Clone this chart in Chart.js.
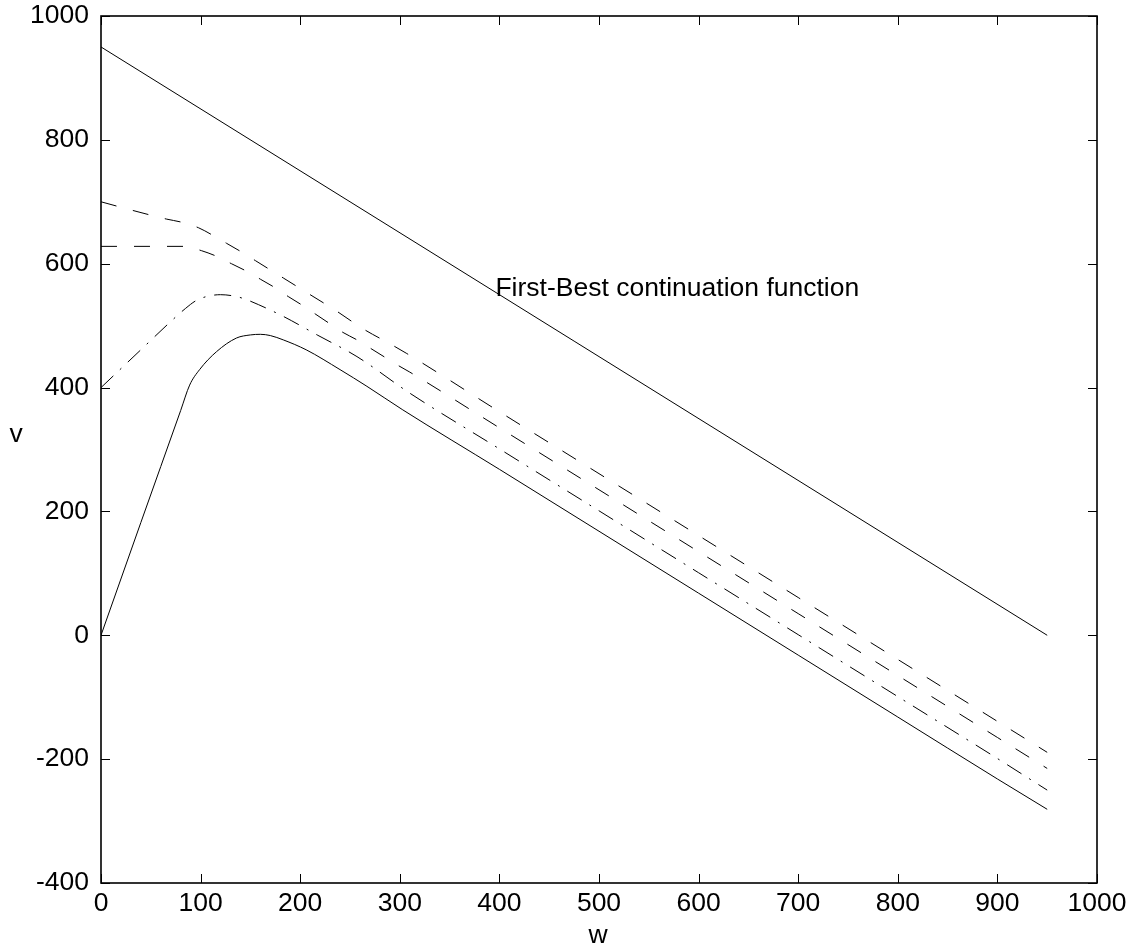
<!DOCTYPE html>
<html>
<head>
<meta charset="utf-8">
<script src="https://cdn.jsdelivr.net/npm/chart.js@4.4.1/dist/chart.umd.min.js"></script>
<style>
  html, body { margin: 0; padding: 0; background: #ffffff; }
  #wrap { width: 1134px; height: 949px; position: relative; }
</style>
</head>
<body>
<div id="wrap"><canvas id="c" width="1134" height="949"></canvas></div>
<script>
// ---- data ----
const xTicks = [0, 100, 200, 300, 400, 500, 600, 700, 800, 900, 1000];
const yTicks = [-400, -200, 0, 200, 400, 600, 800, 1000];

const wFirstBest = [0, 950];
const vFirstBest = [950, 0];

const wSolid = [0, 40, 80, 89, 99, 116, 136, 150, 160, 170, 183, 206, 240, 267, 303, 400, 500, 600, 700, 800, 900, 950];
const vSolid = [0, 182, 363, 404, 429, 458, 480, 485, 486, 484, 477, 461, 429, 402, 364, 268, 168, 68, -32, -132, -232, -281];

const wDashDot = [0, 40, 75, 85, 95, 106, 120, 136, 146, 158, 183, 217, 257, 310, 400, 500, 600, 700, 800, 900, 950];
const vDashDot = [400, 461, 514, 528, 540, 547, 550, 547, 542, 534, 515, 485, 450, 391, 301, 201, 101, 1, -99, -199, -250];

const wUpperDash = [0, 32, 66, 81, 98, 111, 126, 140, 155, 168, 183, 210, 237, 263, 292, 307, 400, 500, 600, 700, 800, 900, 950];
const vUpperDash = [700, 686, 672, 667, 658, 647, 633, 620, 605, 592, 577, 550, 523, 495, 469, 455, 361, 261, 161, 61, -39, -139, -189];

const wLowerDash = [0, 84, 101, 116, 131, 146, 160, 175, 188, 201, 215, 228, 243, 257, 270, 285, 297, 310, 400, 500, 600, 700, 800, 900, 950];
const vLowerDash = [628, 628, 621, 612, 600, 588, 575, 561, 547, 534, 519, 505, 489, 477, 464, 449, 437, 425, 335, 235, 135, 35, -65, -165, -215];

const annotationText = 'First-Best continuation function';
const annotationAt = { w: 396, v: 560 };
const xTitle = 'w';
const yTitle = 'v';

// ---- build ----
const FONT = "'Liberation Sans', Arial, sans-serif";
const FS = 26.5;
function pts(ws, vs) { return ws.map((w, i) => ({ x: w, y: vs[i] })); }
function ds(ws, vs, dash, smooth) {
  return {
    data: pts(ws, vs), borderColor: '#000', borderWidth: 1, borderDash: dash,
    pointRadius: 0, fill: false, showLine: true,
    cubicInterpolationMode: smooth ? 'monotone' : 'default', tension: 0
  };
}

const framePlugin = {
  id: 'frame',
  afterDatasetsDraw(chart) {
    const { ctx, chartArea: a, scales: { x, y } } = chart;
    ctx.save();
    ctx.strokeStyle = '#000';
    ctx.lineWidth = 1.6;
    ctx.strokeRect(a.left, a.top, a.right - a.left, a.bottom - a.top);
    ctx.lineWidth = 1;
    const L = 9;
    ctx.beginPath();
    xTicks.forEach(t => {
      const px = Math.round(x.getPixelForValue(t)) + 0.5;
      ctx.moveTo(px, a.bottom); ctx.lineTo(px, a.bottom - L);
      ctx.moveTo(px, a.top); ctx.lineTo(px, a.top + L);
    });
    yTicks.forEach(t => {
      const py = Math.round(y.getPixelForValue(t)) + 0.5;
      ctx.moveTo(a.left, py); ctx.lineTo(a.left + L, py);
      ctx.moveTo(a.right, py); ctx.lineTo(a.right - L, py);
    });
    ctx.stroke();
    // annotation
    ctx.fillStyle = '#000';
    ctx.font = FS + 'px ' + FONT;
    ctx.textAlign = 'left';
    ctx.textBaseline = 'middle';
    ctx.fillText(annotationText, x.getPixelForValue(annotationAt.w), y.getPixelForValue(annotationAt.v));
    // axis titles
    ctx.textAlign = 'center';
    ctx.fillText(xTitle, (a.left + a.right) / 2 - 1, 936);
    ctx.fillText(yTitle, 16, 435);
    ctx.restore();
  }
};

new Chart(document.getElementById('c'), {
  type: 'scatter',
  data: {
    datasets: [
      ds(wFirstBest, vFirstBest, [], false),
      ds(wUpperDash, vUpperDash, [16, 17], true),
      ds(wLowerDash, vLowerDash, [16, 17], true),
      ds(wDashDot, vDashDot, [17, 9, 2, 9], true),
      ds(wSolid, vSolid, [], true)
    ]
  },
  options: {
    responsive: false,
    animation: false,
    devicePixelRatio: 1,
    layout: { padding: { top: 16, right: 37, left: 0, bottom: 0 } },
    plugins: { legend: { display: false }, tooltip: { enabled: false } },
    scales: {
      x: {
        type: 'linear', min: 0, max: 1000,
        afterBuildTicks: s => { s.ticks = xTicks.map(v => ({ value: v })); },
        afterFit: s => { s.height = 66; s.paddingLeft = 0; s.paddingRight = 0; },
        grid: { display: false, drawTicks: false },
        border: { display: false },
        ticks: { color: '#000', font: { family: FONT, size: FS }, padding: 5, maxRotation: 0, autoSkip: false, callback: v => String(v) }
      },
      y: {
        type: 'linear', min: -400, max: 1000,
        afterBuildTicks: s => { s.ticks = yTicks.map(v => ({ value: v })); },
        afterFit: s => { s.width = 101; s.paddingTop = 0; s.paddingBottom = 0; },
        grid: { display: false, drawTicks: false },
        border: { display: false },
        ticks: { color: '#000', font: { family: FONT, size: FS }, padding: 12, autoSkip: false, callback: v => String(v) }
      }
    }
  },
  plugins: [framePlugin]
});
</script>
</body>
</html>
